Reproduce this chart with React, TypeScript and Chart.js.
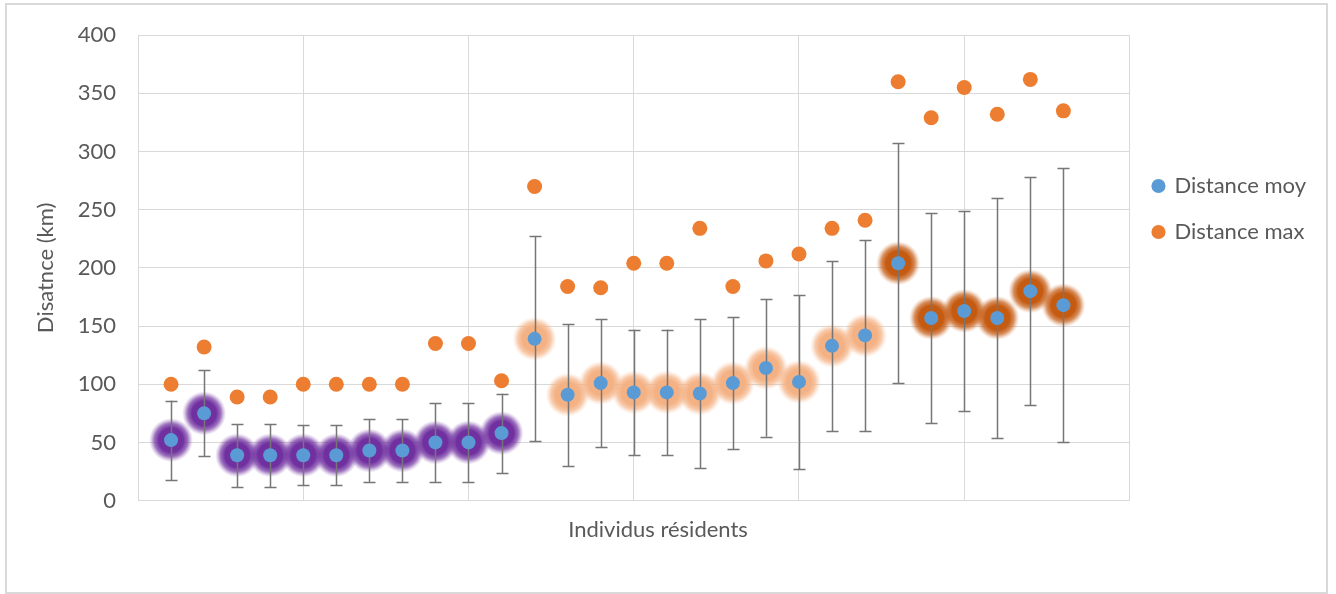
import React, { useEffect, useRef } from "react";
import { Chart, registerables } from "chart.js";

Chart.register(...registerables);

// Individuals (x positions)
const individuals = [1, 2, 3, 4, 5, 6, 7, 8, 9, 10, 11, 12, 13, 14, 15, 16, 17, 18, 19, 20, 21, 22, 23, 24, 25, 26, 27, 28];
// Mean distance (km)
const meanDist = [52, 75, 39, 39, 39, 39, 43, 43, 50, 50, 58, 139, 91, 101, 93, 93, 92, 101, 114, 102, 133, 142, 204, 157, 163, 157, 180, 168];
// Standard deviation (error bars, km)
const sdDist = [34, 37, 27, 27, 26, 26, 27, 27, 34, 34, 34, 88, 61, 55, 54, 54, 64, 57, 59, 75, 73, 82, 103, 90, 86, 103, 98, 118];
// Max distance (km)
const maxDist = [100, 132, 89, 89, 100, 100, 100, 100, 135, 135, 103, 270, 184, 183, 204, 204, 234, 184, 206, 212, 234, 241, 360, 329, 355, 332, 362, 335];
// Group of each individual (glow colour)
const groups = [0, 0, 0, 0, 0, 0, 0, 0, 0, 0, 0, 1, 1, 1, 1, 1, 1, 1, 1, 1, 1, 1, 2, 2, 2, 2, 2, 2];
const glowColors = ["#7030a0", "#f4b183", "#c55a11"];
const yTicks = [0, 50, 100, 150, 200, 250, 300, 350, 400];

const FONT = "Lato";
const TEXT = "#595959";
const GRID = "#d9d9d9";

function rgba(hex: string, a: number) {
  const n = parseInt(hex.slice(1), 16);
  return `rgba(${(n >> 16) & 255},${(n >> 8) & 255},${n & 255},${a})`;
}

const glowAndErrorPlugin = {
  id: "glowAndError",
  beforeDatasetsDraw(chart: any) {
    const meta = chart.getDatasetMeta(0);
    const yScale = chart.scales.y;
    const ctx = chart.ctx;
    ctx.save();
    // glow
    meta.data.forEach((el: any, i: number) => {
      const c = glowColors[groups[i]];
      const R = 22;
      const g = ctx.createRadialGradient(el.x, el.y, 0, el.x, el.y, R);
      g.addColorStop(0, rgba(c, 1));
      g.addColorStop(0.55, rgba(c, 1));
      g.addColorStop(0.75, rgba(c, 0.7));
      g.addColorStop(0.9, rgba(c, 0.22));
      g.addColorStop(1, rgba(c, 0));
      ctx.fillStyle = g;
      ctx.beginPath();
      ctx.arc(el.x, el.y, R, 0, Math.PI * 2);
      ctx.fill();
    });
    // error bars
    ctx.strokeStyle = "#767676";
    ctx.lineWidth = 1.5;
    meta.data.forEach((el: any, i: number) => {
      const top = yScale.getPixelForValue(meanDist[i] + sdDist[i]);
      const bot = yScale.getPixelForValue(meanDist[i] - sdDist[i]);
      const x = Math.round(el.x) + 0.5;
      ctx.beginPath();
      ctx.moveTo(x, top);
      ctx.lineTo(x, bot);
      ctx.moveTo(x - 6, Math.round(top) + 0.5);
      ctx.lineTo(x + 6, Math.round(top) + 0.5);
      ctx.moveTo(x - 6, Math.round(bot) + 0.5);
      ctx.lineTo(x + 6, Math.round(bot) + 0.5);
      ctx.stroke();
    });
    ctx.restore();
  },
};

export default function App() {
  const ref = useRef<HTMLCanvasElement>(null);
  useEffect(() => {
    if (!ref.current) return;
    const chart = new Chart(ref.current, {
      type: "scatter",
      data: {
        datasets: [
          {
            label: "Distance moy",
            data: individuals.map((x, i) => ({ x, y: meanDist[i] })),
            backgroundColor: "#5b9bd5",
            borderColor: "#5b9bd5",
            borderWidth: 0,
            pointRadius: 7,
            pointHoverRadius: 7,
          },
          {
            label: "Distance max",
            data: individuals.map((x, i) => ({ x, y: maxDist[i] })),
            backgroundColor: "#ed7d31",
            borderColor: "#ed7d31",
            borderWidth: 0,
            pointRadius: 7.5,
            pointHoverRadius: 7.5,
          },
        ],
      },
      options: {
        responsive: false,
        animation: false,
        events: [],
        layout: { padding: { left: 0, top: 34, right: 20, bottom: 51 } },
        scales: {
          x: {
            type: "linear",
            min: 0,
            max: 30,
            ticks: { stepSize: 5, display: false },
            grid: { color: GRID, drawTicks: false, lineWidth: 1 },
            border: { color: GRID },
          },
          y: {
            min: 0,
            max: 400,
            afterBuildTicks: (scale: any) => {
              scale.ticks = yTicks.map((v) => ({ value: v }));
            },
            afterFit: (scale: any) => {
              scale.width = 138;
            },
            ticks: { color: TEXT, font: { family: FONT, size: 22 }, padding: 22 },
            grid: { color: GRID, drawTicks: false, lineWidth: 1 },
            border: { color: GRID },
            title: {
              display: true,
              text: "Disatnce (km)",
              color: TEXT,
              font: { family: FONT, size: 22 },
              padding: { top: 33, bottom: 0 },
            },
          },
        },
        plugins: {
          tooltip: { enabled: false },
          title: {
            display: true,
            position: "bottom",
            text: "Individus résidents",
            color: TEXT,
            font: { family: FONT, size: 22, weight: "normal" },
            padding: { top: 16, bottom: 0 },
          },
          legend: {
            position: "right",
            align: "start",
            title: {
              display: true,
              text: "",
              font: { family: FONT, size: 10 },
              padding: { top: 105, bottom: 0 },
            },
            labels: {
              usePointStyle: true,
              pointStyle: "circle",
              boxWidth: 10,
              boxHeight: 10,
              padding: 24,
              color: TEXT,
              font: { family: FONT, size: 22 },
            },
          },
        },
      },
      plugins: [glowAndErrorPlugin],
    } as any);
    return () => chart.destroy();
  }, []);
  return (
    <div style={{ position: "absolute", left: 0, top: 0, width: 1336, height: 594, background: "#fff" }}>
      <div
        style={{
          position: "absolute",
          left: 5,
          top: 3,
          width: 1323,
          height: 591,
          border: "2px solid #d9d9d9",
          boxSizing: "border-box",
        }}
      />
      <canvas ref={ref} width={1336} height={594} style={{ position: "absolute", left: 0, top: 0 }} />
    </div>
  );
}
